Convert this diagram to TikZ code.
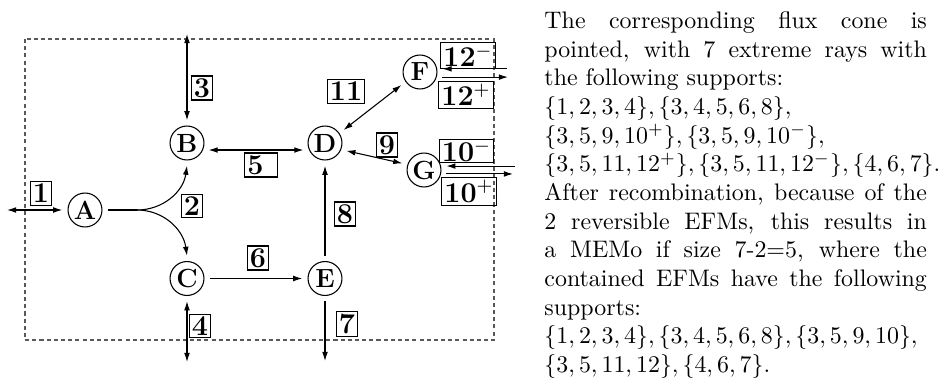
\documentclass[tikz,border=0pt]{standalone}
\usetikzlibrary{arrows.meta}
\begin{document}
\begin{tikzpicture}[x=0.4184pt,y=-0.4184pt,
  met/.style={circle,draw,line width=0.45pt,minimum size=14.2pt,inner sep=0pt,outer sep=2.4pt,
    font=\fontsize{11}{13}\selectfont\bfseries},
  lbl/.style={draw,line width=0.45pt,inner xsep=1.1pt,inner ysep=1pt,
    font=\fontsize{12}{14}\selectfont\bfseries},
  flux/.style={line width=0.45pt,-{Latex[length=3.8pt,width=2.4pt]}},
  rflux/.style={line width=0.45pt,{Latex[length=3.8pt,width=2.4pt]}-{Latex[length=3.8pt,width=2.4pt]}},
  frame/.style={draw=black!65,line width=0.45pt,dash pattern=on 1.7pt off 1.3pt}]
\useasboundingbox (0,0) rectangle (952,388);

% system boundary
\draw[frame] (25,39) rectangle (494,340);

% metabolites
\node[met] (A) at (85,210) {A};
\node[met] (B) at (187,143) {B};
\node[met] (C) at (187,278.5) {C};
\node[met] (D) at (325,143) {D};
\node[met] (E) at (325,278.5) {E};
\node[met] (F) at (420,72) {F};
\node[met] (G) at (424,170) {G};

% free ends of exchange reactions
\coordinate (x1) at (7,210);
\coordinate (x3) at (187,34);
\coordinate (x4) at (187,362);
\coordinate (x7) at (325,361);
\coordinate (x12m) at (507,0);
\coordinate (x12p) at (508,0);
\coordinate (x10m) at (515,0);
\coordinate (x10p) at (513,0);
\coordinate (fork) at (137,210);

% reactions
\draw[rflux] (x1) -- (A.west);
\draw[line width=0.45pt] (A.east) -- (fork);
\draw[flux] (fork) to[out=0,in=-98] (B.south);
\draw[flux] (fork) to[out=0,in=98] (C.north);
\draw[rflux] (x3) -- (B.north);
\draw[rflux] (C.south) -- (x4);
\draw[rflux] (B.-18) -- (D.198);
\draw[flux] (C.east) -- (E.west);
\draw[flux] (E.south) -- (x7);
\draw[flux] (E.north) -- (D.south);
\draw[rflux] (D.-20) -- (G.163);
\draw[rflux] (D.35) -- (F.215);
\draw[flux] (F.8 -| x12m) -- (F.8);
\draw[flux] (F.-13) -- (F.-13 -| x12p);
\draw[flux] (G.10 -| x10m) -- (G.10);
\draw[flux] (G.-10) -- (G.-10 -| x10p);

% reaction labels
\node[lbl] (l1) at (41,193.5) {1};
\node[lbl] (l2) at (192,206) {2};
\node[lbl] (l3) at (202,88) {3};
\node[lbl] (l4) at (200,326) {4};
\node[lbl] (l5) at (261,165) {5\hspace*{4.7pt}};
\node[lbl] (l6) at (258,258) {6};
\node[lbl] (l7) at (347,324) {7};
\node[lbl] (l8) at (345,214) {8};
\node[lbl] (l9) at (387,145) {9};
\node[lbl] (l11) at (346,91.5) {11};
\node[lbl] (l12m) at (468,55.5) {12$^{-}$};
\node[lbl] (l12p) at (466,95) {12$^{+}$};
\node[lbl,inner ysep=0pt] (l10m) at (466.5,151) {10$^{-}$};
\node[lbl] (l10p) at (469,191.5) {10$^{+}$};

% explanation
\node[anchor=north west,text width=160pt,align=justify,inner sep=0pt,
  font=\fontsize{10}{12}\selectfont] (txt) at (544,11) {%
The corresponding flux cone is\linebreak
pointed, with 7 extreme rays with\linebreak
the following supports:\newline
$\{1,2,3,4\},\{3,4,5,6,8\},$\newline
$\{3,5,9,10^+\},\{3,5,9,10^-\},$\newline
$\{3,5,11,12^+\},\{3,5,11,12^-\},\{4,6,7\}.$\newline
After recombination, because of the\linebreak
2 reversible EFMs, this results in\linebreak
a MEMo if size 7-2=5, where the\linebreak
contained EFMs have the following\linebreak
supports:\newline
$\{1,2,3,4\},\{3,4,5,6,8\},\{3,5,9,10\},$\newline
$\{3,5,11,12\},\{4,6,7\}.$};
\end{tikzpicture}
\end{document}
